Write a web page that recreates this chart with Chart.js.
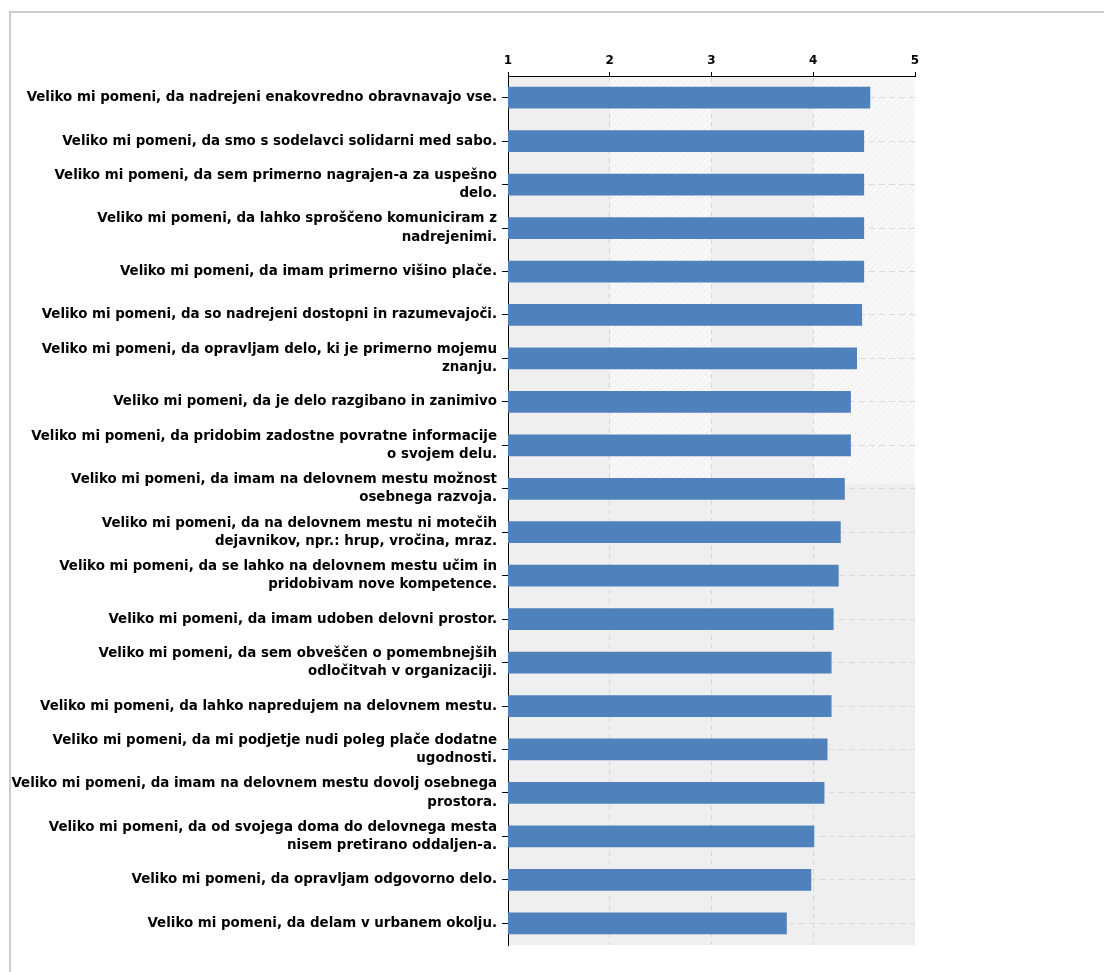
<!DOCTYPE html>
<html>
<head>
<meta charset="utf-8">
<script src="https://cdn.jsdelivr.net/npm/chart.js@4.4.0/dist/chart.umd.min.js"></script>
<style>
body { margin: 0; background: #fff; }
#frame { position: absolute; left: 9px; top: 11px; width: 1200px; height: 1000px; border-top: 2px solid #cdcdcd; border-left: 2px solid #cdcdcd; }
#mycanvas { position: absolute; left: 0; top: 0; }
</style>
</head>
<body>
<div id="frame"></div>
<canvas id="mycanvas" width="1104" height="972"></canvas>
<script>
// trditve (vsaka vrstica = ena kategorija, daljše so prelomljene v dve vrstici)
var categories = [
	["Veliko mi pomeni, da nadrejeni enakovredno obravnavajo vse."],
	["Veliko mi pomeni, da smo s sodelavci solidarni med sabo."],
	["Veliko mi pomeni, da sem primerno nagrajen-a za uspešno", "delo."],
	["Veliko mi pomeni, da lahko sproščeno komuniciram z", "nadrejenimi."],
	["Veliko mi pomeni, da imam primerno višino plače."],
	["Veliko mi pomeni, da so nadrejeni dostopni in razumevajoči."],
	["Veliko mi pomeni, da opravljam delo, ki je primerno mojemu", "znanju."],
	["Veliko mi pomeni, da je delo razgibano in zanimivo"],
	["Veliko mi pomeni, da pridobim zadostne povratne informacije", "o svojem delu."],
	["Veliko mi pomeni, da imam na delovnem mestu možnost", "osebnega razvoja."],
	["Veliko mi pomeni, da na delovnem mestu ni motečih", "dejavnikov, npr.: hrup, vročina, mraz."],
	["Veliko mi pomeni, da se lahko na delovnem mestu učim in", "pridobivam nove kompetence."],
	["Veliko mi pomeni, da imam udoben delovni prostor."],
	["Veliko mi pomeni, da sem obveščen o pomembnejših", "odločitvah v organizaciji."],
	["Veliko mi pomeni, da lahko napredujem na delovnem mestu."],
	["Veliko mi pomeni, da mi podjetje nudi poleg plače dodatne", "ugodnosti."],
	["Veliko mi pomeni, da imam na delovnem mestu dovolj osebnega", "prostora."],
	["Veliko mi pomeni, da od svojega doma do delovnega mesta", "nisem pretirano oddaljen-a."],
	["Veliko mi pomeni, da opravljam odgovorno delo."],
	["Veliko mi pomeni, da delam v urbanem okolju."]
];

var scores = [4.56, 4.50, 4.50, 4.50, 4.50, 4.48, 4.43, 4.37, 4.37, 4.31,
	4.27, 4.25, 4.20, 4.18, 4.18, 4.14, 4.11, 4.01, 3.98, 3.74];

var axisMin = 1;
var axisMax = 5;

// šrafura za svetlejše pasove v ozadju
var hatchCanvas = document.createElement('canvas');
hatchCanvas.width = 6;
hatchCanvas.height = 6;
var hctx = hatchCanvas.getContext('2d');
hctx.fillStyle = '#f8f8f8';
hctx.fillRect(0, 0, 6, 6);
hctx.strokeStyle = '#ececec';
hctx.lineWidth = 1;
hctx.beginPath();
hctx.moveTo(0, 6);
hctx.lineTo(6, 0);
hctx.stroke();

var bandsPlugin = {
	id: 'bands',
	beforeDraw: function(chart) {
		var ctx = chart.ctx;
		var area = chart.chartArea;
		var xs = chart.scales.x;
		var ys = chart.scales.y;
		var split = ys.getPixelForValue(8.88);
		ctx.save();
		ctx.fillStyle = '#efefef';
		ctx.fillRect(area.left, area.top, area.right - area.left, area.bottom - area.top);
		ctx.fillStyle = ctx.createPattern(hatchCanvas, 'repeat');
		[2, 4].forEach(function(v) {
			var x0 = xs.getPixelForValue(v);
			var x1 = xs.getPixelForValue(v + 1);
			ctx.fillRect(x0, area.top, x1 - x0, split - area.top);
		});
		ctx.restore();
	}
};

var chartdata = {
	labels: categories,
	datasets: [
		{
			label: 'Povprečje',
			backgroundColor: '#4f81bd',
			borderWidth: 0,
			barPercentage: 0.5,
			categoryPercentage: 1,
			data: scores
		}
	]
};

var ctx = document.getElementById('mycanvas');

var barGraph = new Chart(ctx, {
	type: 'bar',
	data: chartdata,
	plugins: [bandsPlugin],
	options: {
		indexAxis: 'y',
		responsive: false,
		animation: false,
		layout: { padding: { left: 0, right: 189, top: 0, bottom: 27 } },
		plugins: {
			legend: { display: false },
			tooltip: { enabled: false }
		},
		scales: {
			x: {
				position: 'top',
				min: axisMin,
				max: axisMax,
				afterFit: function(scale) { scale.height = 76; },
				ticks: {
					stepSize: 1,
					color: '#000',
					padding: 4,
					font: { family: 'DejaVu Sans', size: 12, weight: 'bold' }
				},
				grid: {
					color: function(c) { return c.tick && c.tick.value === axisMax ? 'rgba(0,0,0,0)' : '#d6d6d6'; },
					tickColor: '#000',
					tickLength: 4
				},
				border: { color: '#000', width: 1, dash: [5, 4] }
			},
			y: {
				afterFit: function(scale) { scale.width = 508; },
				ticks: {
					color: '#000',
					padding: 5,
					autoSkip: false,
					font: { family: 'DejaVu Sans', size: 13.4, weight: 'bold', lineHeight: 1.36 }
				},
				grid: { color: '#dadada', tickColor: '#000', tickLength: 6, offset: false },
				border: { color: '#000', width: 1, dash: [6, 4] }
			}
		}
	}
});
</script>
</body>
</html>
